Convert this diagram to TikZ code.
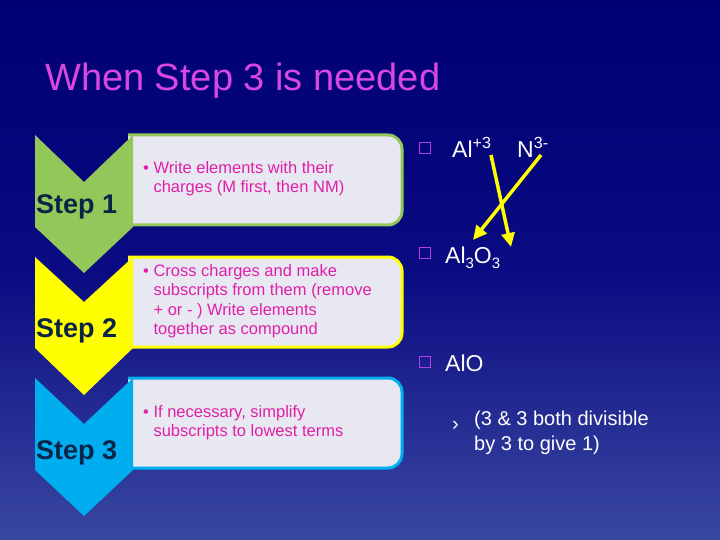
\documentclass[tikz,border=0pt]{standalone}
\usepackage{fontspec}
\setmainfont{Liberation Sans}
\usetikzlibrary{arrows.meta}
\definecolor{mag}{HTML}{E020A8}
\definecolor{ttl}{HTML}{D848E0}
\definecolor{navy}{HTML}{0A2448}
\definecolor{boxf}{HTML}{E8E8F2}
\definecolor{gr}{HTML}{92C85A}
\definecolor{ye}{HTML}{FFFF00}
\definecolor{bl}{HTML}{00AEEF}
\definecolor{sq}{HTML}{B040E0}
\tikzset{
 steplbl/.style={font=\bfseries\fontsize{27}{29}\selectfont, text=navy, anchor=base west, inner sep=0},
 bul/.style={font=\fontsize{16.5}{19.5}\selectfont, text=mag, anchor=north west, align=left, inner sep=0},
 rt/.style={font=\fontsize{23}{26}\selectfont, text=white, anchor=base west, inner sep=0},
 sqb/.style={draw=sq, line width=1.3pt, minimum size=11pt, inner sep=0},
 ya/.style={draw=ye, line width=3.5pt, -{Triangle[length=14pt,width=13pt]}}
}
\begin{document}
\begin{tikzpicture}[x=1pt,y=-1pt]
\useasboundingbox (0,0) rectangle (720,540);
\shade[top color=blue!45!black, bottom color={rgb,255:red,58;green,72;blue,160}, middle color={rgb,255:red,10;green,10;blue,130}] (0,0) rectangle (720,540);
\node[font=\fontsize{38}{40}\selectfont, text=ttl, anchor=base west, inner sep=0] (title) at (45,91) {When Step 3 is needed};
% boxes
\foreach \t/\c in {135/gr,257/ye,378/bl}{
 \draw[draw=\c, line width=3pt, fill=boxf, rounded corners=14pt] (128,\t) -- (402,\t) -- (402,\t+90) -- (128,\t+90);
}
% chevrons
\fill[gr] (35,135) -- (84,182) -- (133,135) -- (133,227) -- (84,273) -- (35,227) -- cycle;
\fill[ye] (35,257) -- (84,302) -- (133,257) -- (133,348) -- (84,395) -- (35,348) -- cycle;
\fill[bl] (35,378) -- (84,424) -- (133,378) -- (133,470) -- (84,516) -- (35,470) -- cycle;
\node[steplbl] (s1) at (36,214) {Step 1};
\node[steplbl] (s2) at (36,337) {Step 2};
\node[steplbl] (s3) at (36,459) {Step 3};
\node[bul] (t1) at (143,161) {•\ Write elements with their\\\phantom{•\ }charges (M first, then NM)};
\node[bul] (t2) at (143,264) {•\ Cross charges and make\\\phantom{•\ }subscripts from them (remove\\\phantom{•\ }+ or - ) Write elements\\\phantom{•\ }together as compound};
\node[bul] (t3) at (143,405) {•\ If necessary, simplify\\\phantom{•\ }subscripts to lowest terms};
% right side
\node[sqb] (q1) at (425,148) {};
\node[sqb] (q2) at (425,253) {};
\node[sqb] (q3) at (425,362) {};
\node[rt] (al) at (452,158) {Al\textsuperscript{+3}};
\node[rt] (n) at (517,158) {N\textsuperscript{3-}};
\node[rt] (al2) at (445,263) {Al\raisebox{-5pt}{\fontsize{15}{15}\selectfont 3}O\raisebox{-5pt}{\fontsize{15}{15}\selectfont 3}};
\node[rt] (alo) at (445,371) {AlO};
\node[font=\fontsize{20}{24}\selectfont, text=white, anchor=base west, inner sep=0] (sub) at (452,430) {›};
\node[font=\fontsize{20}{25}\selectfont, text=white, anchor=north west, align=left, inner sep=0] (sb) at (474,411) {(3 \& 3 both divisible\\by 3 to give 1)};
\coordinate (a1) at (491,155);
\coordinate (a2) at (511,247);
\coordinate (b1) at (541,155);
\coordinate (b2) at (473,240);
\draw[ya] (a1) -- (a2);
\draw[ya] (b1) -- (b2);
\end{tikzpicture}
\end{document}
